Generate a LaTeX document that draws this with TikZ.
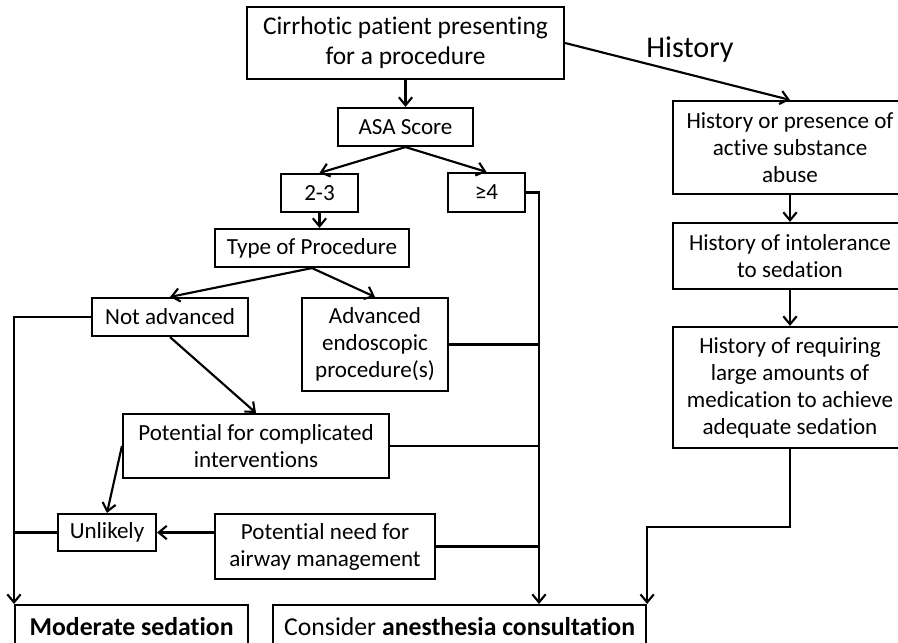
\documentclass[tikz,border=0pt]{standalone}
\usepackage{fontspec}
\setmainfont{Carlito}[Ligatures=NoCommon]
\usetikzlibrary{arrows.meta,positioning,calc}

\tikzset{
  box/.style={draw, line width=1.6pt, inner sep=0pt, align=center,
              font=\fontsize{17.3}{20.25}\selectfont},
  wh/.style 2 args={minimum width=#1*0.75pt, minimum height=#2*0.75pt},
  link/.style={line width=1.6pt},
  arr/.style={link, -{Straight Barb[length=6pt,width=10pt]}},
}

\begin{document}
\begin{tikzpicture}[x=0.75pt,y=-0.75pt]
  \clip (0,0) rectangle (898,642);
  % main branch
  \node[box, wh={317}{72}, font=\fontsize{19.1}{22.5}\selectfont] (patient) at (405.5,43)
    {Cirrhotic patient presenting\\for a procedure};
  \node[box, wh={135}{38}] (asa) at (405.5,127) {ASA Score};
  \node[box, wh={77}{38}] (lowasa) at (319.5,193) {2-3};
  \node[box, wh={77}{39}] (highasa) at (486.5,192.5) {≥4};
  \node[box, wh={194}{38}] (proctype) at (312,248) {Type of Procedure};
  \node[box, wh={156}{38}] (notadv) at (170,317) {Not advanced};
  \node[box, wh={146}{93}] (adv) at (375,344.5) {Advanced\\endoscopic\\procedure(s)};
  \node[box, wh={266}{64}] (complic) at (256,446) {Potential for complicated\\interventions};
  \node[box, wh={98}{37}] (unlikely) at (107,532.5) {Unlikely};
  \node[box, wh={220}{65}] (airway) at (325,546.5) {Potential need for\\airway management};
  \node[box, wh={233}{42}, anchor=north west, font=\fontsize{19.3}{23}\selectfont] (modsed)
    at (14,604) {\textbf{Moderate sedation}};
  \node[box, wh={373}{42}, anchor=north west, font=\fontsize{19.3}{23}\selectfont] (anesth)
    at (272,604) {Consider \textbf{anesthesia consultation}};
  % history branch
  \node[font=\fontsize{22.6}{27}\selectfont] (histlbl) at (690,50) {History};
  \node[box, wh={234}{93}] (hsubst) at (790,147.5) {History or presence of\\active substance\\abuse};
  \node[box, wh={234}{66}] (hintol) at (790,256) {History of intolerance\\to sedation};
  \node[box, wh={234}{121}] (hmeds) at (790,387.5)
    {History of requiring\\large amounts of\\medication to achieve\\adequate sedation};

  \draw[arr] (patient) -- (asa);
  \draw[arr] (patient.east) -- (hsubst.north);
  \draw[arr] (asa.south) -- (lowasa.north);
  \draw[arr] (asa.south) -- (highasa.north);
  \draw[arr] (lowasa.south) -- (lowasa.south |- proctype.north);
  \draw[arr] (proctype.south) -- (notadv.north);
  \draw[arr] (proctype.south) -- (adv.north);
  \draw[arr] (notadv.south) -- (complic.north);
  \draw[arr] (complic.west) -- (unlikely.north);
  \draw[arr] (airway.west |- unlikely.east) -- (unlikely.east);
  % to moderate sedation
  \draw[arr] (notadv.west) -| (modsed.north west);
  \draw[link] (unlikely.west) -- (unlikely.west -| modsed.north west);
  % to anesthesia consultation
  \coordinate (anesin) at (539,604);
  \draw[arr] (highasa.east) -| (anesin);
  \draw[link] (adv.east) -- (adv.east -| anesin);
  \draw[link] (complic.east) -- (complic.east -| anesin);
  \draw[link] (airway.east) -- (airway.east -| anesin);
  \draw[arr] (hsubst) -- (hintol);
  \draw[arr] (hintol) -- (hmeds);
  \draw[arr] (hmeds.south) -- ++(0,78) -| (anesth.north east);
\end{tikzpicture}
\end{document}
